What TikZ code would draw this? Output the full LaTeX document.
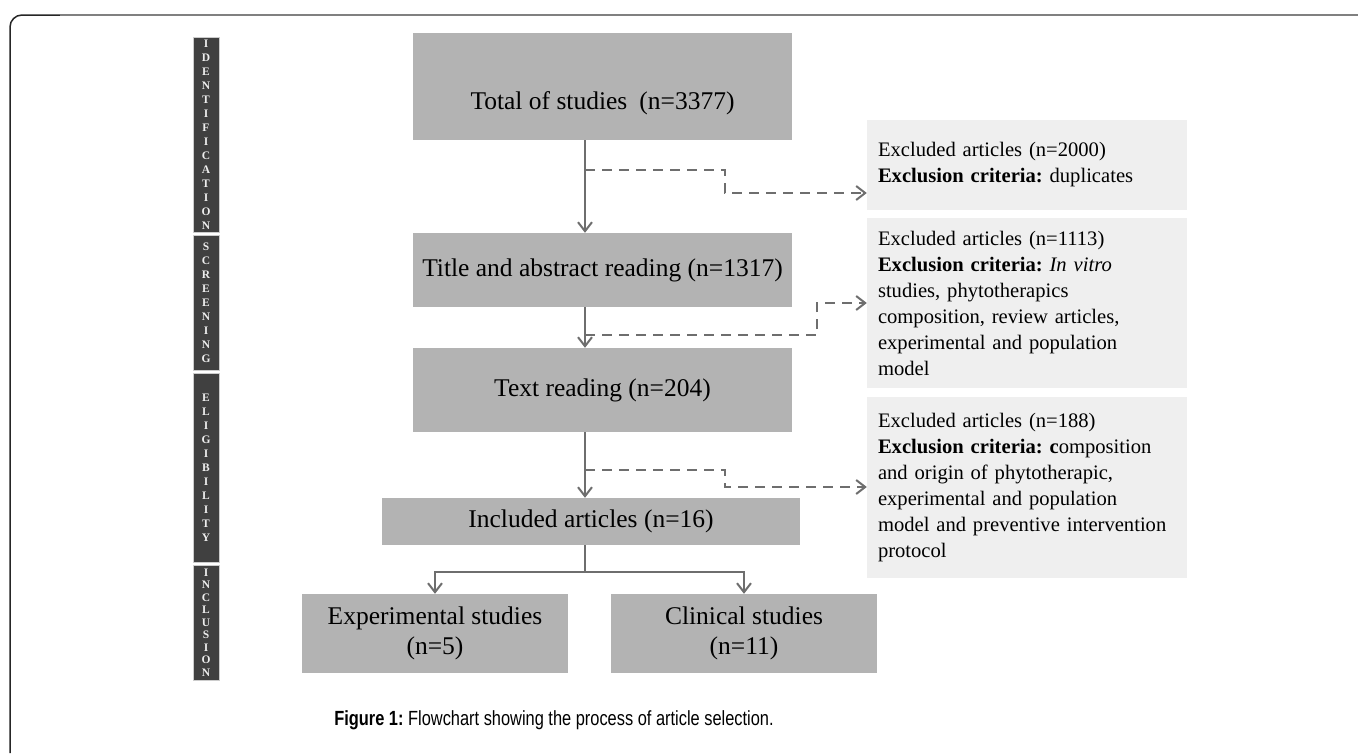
\documentclass[tikz,border=0pt]{standalone}
\usepackage{fontspec}
\setmainfont{Liberation Serif}
\newfontfamily\capfont[FakeStretch=0.8]{Liberation Sans}
\usetikzlibrary{arrows.meta}
\definecolor{stagegrey}{HTML}{B3B3B3}
\definecolor{exgrey}{HTML}{EFEFEF}
\definecolor{phasedark}{HTML}{404040}
\definecolor{linegrey}{HTML}{6E6E6E}
\frenchspacing

\begin{document}
\begin{tikzpicture}[x=1pt, y=-1pt,
  stage/.style={rectangle, fill=stagegrey, inner sep=0pt, align=center, font=\fontsize{25.5}{30}\selectfont},
  excluded/.style={rectangle, fill=exgrey, text width=298pt, inner xsep=11pt, align=left, font=\fontsize{20.6}{26}\selectfont},
  phase/.style={rectangle, fill=phasedark, draw=white!80!black, line width=1pt, minimum width=26pt, inner sep=0pt, text=white!93!black, align=center, font=\fontsize{11.5}{14}\bfseries\selectfont},
  link/.style={draw=linegrey, line width=2pt},
  arrow/.style={link, -{Straight Barb[length=9pt, width=14pt]}},
  dasharrow/.style={arrow, dash pattern=on 10pt off 7pt}
]
\fill [white] (0,0) rectangle (1358,753);
\useasboundingbox (0,0) rectangle (1358,753);

\draw [line width=1.5pt, black!85, rounded corners=12pt] (10,753) -- (10,15) -- (60,15);
\draw [line width=2pt, black!50] (60,15) -- (1358,15);

\node (ident) [phase, minimum height=195pt] at (206,134.5) {I\\D\\E\\N\\T\\I\\F\\I\\C\\A\\T\\I\\O\\N};
\node (screen) [phase, minimum height=135pt] at (206,302.5) {S\\C\\R\\E\\E\\N\\I\\N\\G};
\node (elig) [phase, minimum height=189pt] at (206,467.5) {E\\L\\I\\G\\I\\B\\I\\L\\I\\T\\Y};
\node (inclu) [phase, minimum height=115pt, font=\fontsize{11.5}{12.5}\bfseries\selectfont] at (206,622.5) {I\\N\\C\\L\\U\\S\\I\\O\\N};

\node (total) [stage, minimum width=379pt, minimum height=107pt, text height=52pt, text depth=6pt] at (602.5,86.5) {Total of studies\hspace{12pt}(n=3377)};
\node (title) [stage, minimum width=379pt, minimum height=74pt] at (602.5,270) {Title and abstract reading (n=1317)};
\node (textread) [stage, minimum width=379pt, minimum height=84pt] at (602.5,390) {Text reading (n=204)};
\node (incl) [stage, minimum width=418pt, minimum height=47pt] at (591,521.5) {Included articles (n=16)};
\node (expt) [stage, minimum width=266pt, minimum height=79pt] at (435,633.5) {Experimental studies\\(n=5)};
\node (clin) [stage, minimum width=266pt, minimum height=79pt] at (744,633.5) {Clinical studies\\(n=11)};

\node (ex1) [excluded, minimum height=90pt] at (1027,165) {Excluded articles (n=2000)\\\textbf{Exclusion criteria:} duplicates};
\node (ex2) [excluded, minimum height=170pt] at (1027,303) {Excluded articles (n=1113)\\\textbf{Exclusion criteria:} \textit{In vitro}\\studies, phytotherapics\\composition, review articles,\\experimental and population\\model};
\node (ex3) [excluded, minimum height=181pt] at (1027,487.5) {Excluded articles (n=188)\\\textbf{Exclusion criteria: c}omposition\\and origin of phytotherapic,\\experimental and population\\model and preventive intervention\\protocol};

\coordinate (trunk) at (585,0);
\coordinate (fork) at (585,572);
\coordinate (split1) at (585,170);
\coordinate (jog1) at (725,193);
\coordinate (split2) at (585,335);
\coordinate (jog2) at (817,303);
\coordinate (split3) at (585,470);
\coordinate (jog3) at (725,487);

\draw [arrow] (total.south -| trunk) -- (title.north -| trunk);
\draw [arrow] (title.south -| trunk) -- (textread.north -| trunk);
\draw [arrow] (textread.south -| trunk) -- (incl.north -| trunk);
\draw [link] (incl.south -| trunk) -- (fork);
\draw [arrow] (fork) -| (expt.north);
\draw [arrow] (fork) -| (clin.north);

\draw [dasharrow] (split1) -| (jog1) -- (jog1 -| ex1.west);
\draw [dasharrow] (split2) -| (jog2) -- (jog2 -| ex2.west);
\draw [dasharrow] (split3) -| (jog3) -- (jog3 -| ex3.west);

\node (caption) at (554,720) {\capfont\fontsize{20.5}{24}\selectfont\textbf{Figure 1:} Flowchart showing the process of article selection.};

\end{tikzpicture}
\end{document}
